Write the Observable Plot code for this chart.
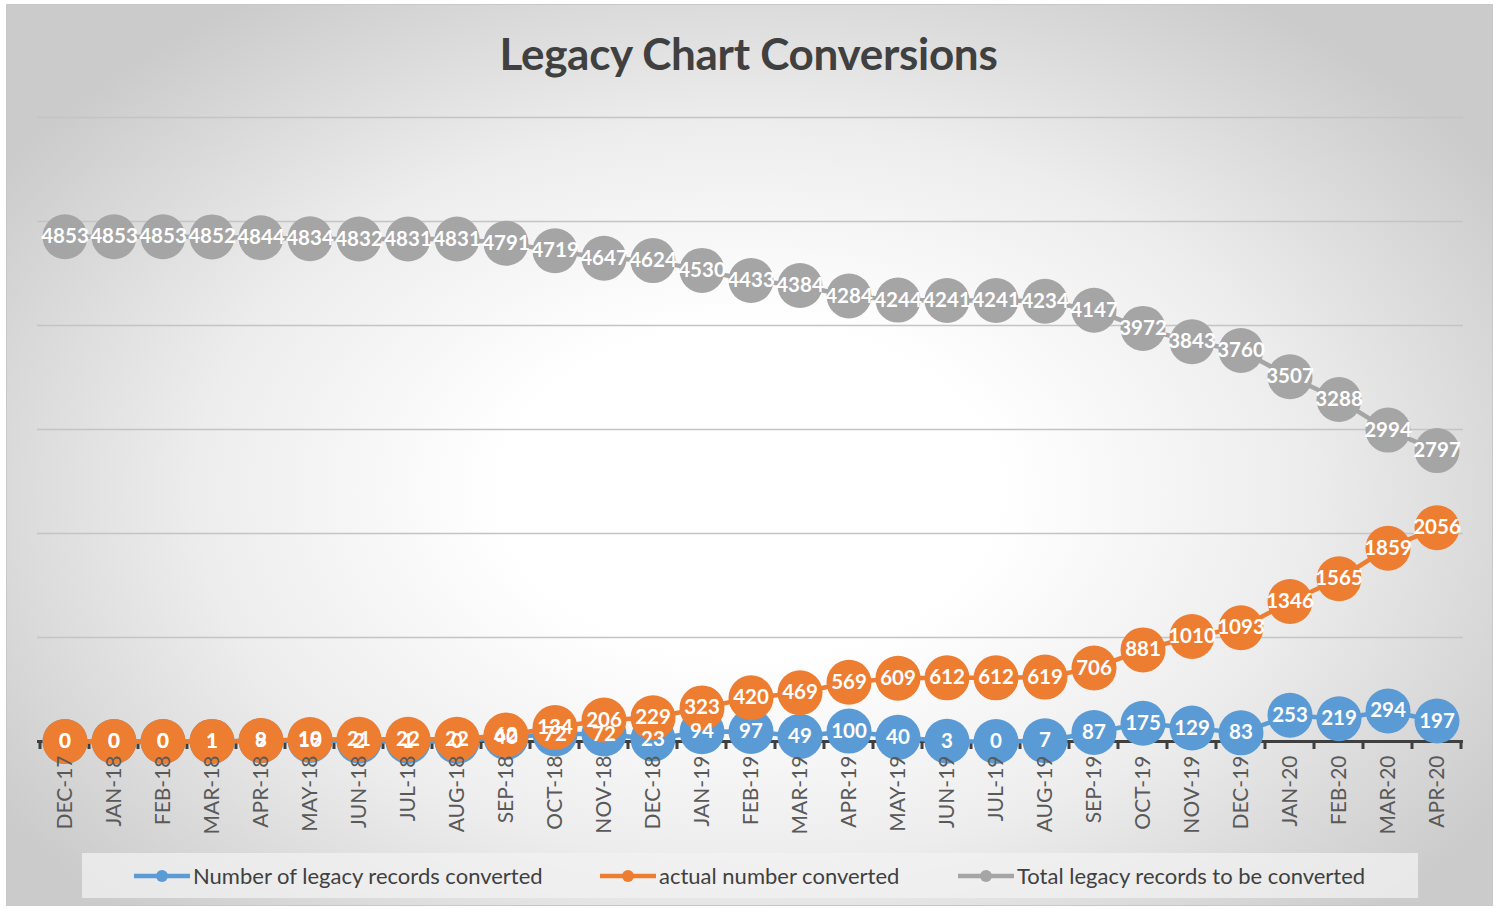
<!DOCTYPE html>
<html>
<head>
<meta charset="utf-8">
<script src="https://cdn.jsdelivr.net/npm/d3@7"></script>
<script src="https://cdn.jsdelivr.net/npm/@observablehq/plot@0.6"></script>
<style>
  html, body { margin: 0; padding: 0; background: #ffffff; }
  #page { position: relative; width: 1497px; height: 909px; overflow: hidden; }
  #frame {
    position: absolute; left: 6px; top: 4px; width: 1487px; height: 902px;
    border: 1px solid #c8c8c8; box-sizing: border-box;
    background: radial-gradient(ellipse 60% 66% at 50% 54%, #ffffff 0%, #ffffff 28%, #ededed 62%, #cbcbcb 100%);
  }
  #title {
    position: absolute; left: 0; top: 27px; width: 1497px; text-align: center;
    font-family: Lato, "Open Sans", sans-serif; font-weight: 700; font-size: 44px; color: #404040;
    letter-spacing: -0.3px;
  }
  #chart { position: absolute; left: 0; top: 100px; }
  #legend {
    position: absolute; left: 82px; top: 853px; width: 1336px; height: 45px;
    background: rgba(242,242,242,0.75);
    font-family: Lato, "Open Sans", sans-serif; font-size: 22px; color: #404040;
  }
  .item { position: absolute; top: 0; height: 45px; display: flex; align-items: center; white-space: nowrap; }
  .item svg { margin-right: 3px; }
</style>
</head>
<body>
<div id="page">
  <div id="frame"></div>
  <div id="title">Legacy Chart Conversions</div>
  <div id="chart"></div>
  <div id="legend"></div>
</div>
<script>
const months = ["DEC-17","JAN-18","FEB-18","MAR-18","APR-18","MAY-18","JUN-18","JUL-18","AUG-18","SEP-18","OCT-18","NOV-18","DEC-18","JAN-19","FEB-19","MAR-19","APR-19","MAY-19","JUN-19","JUL-19","AUG-19","SEP-19","OCT-19","NOV-19","DEC-19","JAN-20","FEB-20","MAR-20","APR-20"];
const monthlyConverted = [0,0,0,1,8,10,2,1,0,40,72,72,23,94,97,49,100,40,3,0,7,87,175,129,83,253,219,294,197];
const actualConverted = [0,0,0,1,9,19,21,22,22,62,134,206,229,323,420,469,569,609,612,612,619,706,881,1010,1093,1346,1565,1859,2056];
const totalRemaining = [4853,4853,4853,4852,4844,4834,4832,4831,4831,4791,4719,4647,4624,4530,4433,4384,4284,4244,4241,4241,4234,4147,3972,3843,3760,3507,3288,2994,2797];
const gridValues = [1000,2000,3000,4000,5000,6000];

const seriesNames = ["Number of legacy records converted","actual number converted","Total legacy records to be converted"];
const seriesColors = ["#5B9BD5","#ED7D31","#A5A5A5"];
const seriesValues = [monthlyConverted, actualConverted, totalRemaining];

const series = seriesValues.map((vals, k) => months.map((m, i) => ({month: m, value: vals[i], series: seriesNames[k]})));

const labelFont = "Lato, 'Open Sans', sans-serif";

function boundaryTicks(index, scales) {
  const x = scales.x, y = scales.y;
  const bw = typeof x.bandwidth === "function" ? x.bandwidth() : x.bandwidth;
  const y0 = y(0);
  const xs = months.map(m => x(m)).concat([x(months[months.length - 1]) + bw]);
  const g = d3.create("svg:g").attr("stroke", "#3f3f3f").attr("stroke-width", 3);
  g.selectAll("line").data(xs).join("line")
    .attr("x1", d => d).attr("x2", d => d)
    .attr("y1", y0).attr("y2", y0 + 8);
  return g.node();
}

const marks = [
  Plot.ruleY(gridValues, {stroke: "#c4c4c4", strokeWidth: 1.5}),
  Plot.ruleY([0], {stroke: "#3f3f3f", strokeWidth: 3}),
  boundaryTicks
];
series.forEach((data, k) => {
  marks.push(Plot.line(data, {x: "month", y: "value", stroke: seriesColors[k], strokeWidth: 4.5}));
  marks.push(Plot.dot(data, {x: "month", y: "value", r: 22.5, fill: seriesColors[k], stroke: "none"}));
});
series.forEach((data, k) => {
  marks.push(Plot.text(data, {x: "month", y: "value", text: d => String(d.value), fill: "white",
    fontSize: 20.5, fontWeight: "bold", fontFamily: labelFont, letterSpacing: "-0.5px"}));
});

const plot = Plot.plot({
  width: 1497,
  height: 760,
  marginLeft: 37,
  marginRight: 34,
  marginTop: 17,
  marginBottom: 119,
  style: {background: "transparent", overflow: "visible"},
  x: {type: "band", domain: months, padding: 0, label: null, tickSize: 0, tickPadding: 14, tickRotate: -90},
  y: {domain: [0, 6000], axis: null},
  marks: [
    ...marks,
    Plot.axisX({tickSize: 0, tickPadding: 14, tickRotate: -90, fontSize: 21, fontFamily: labelFont, fill: "#595959", label: null})
  ]
});
plot.style.fontFamily = labelFont;
document.getElementById("chart").appendChild(plot);

// legend
const legend = document.getElementById("legend");
const itemLefts = [52, 518, 876];
seriesNames.forEach((name, k) => {
  const div = document.createElement("div");
  div.className = "item";
  div.style.left = itemLefts[k] + "px";
  div.innerHTML = `<svg width="56" height="14"><line x1="0" x2="56" y1="7" y2="7" stroke="${seriesColors[k]}" stroke-width="4.5"/><circle cx="28" cy="7" r="6" fill="${seriesColors[k]}"/></svg><span>${name}</span>`;
  legend.appendChild(div);
});
</script>
</body>
</html>
